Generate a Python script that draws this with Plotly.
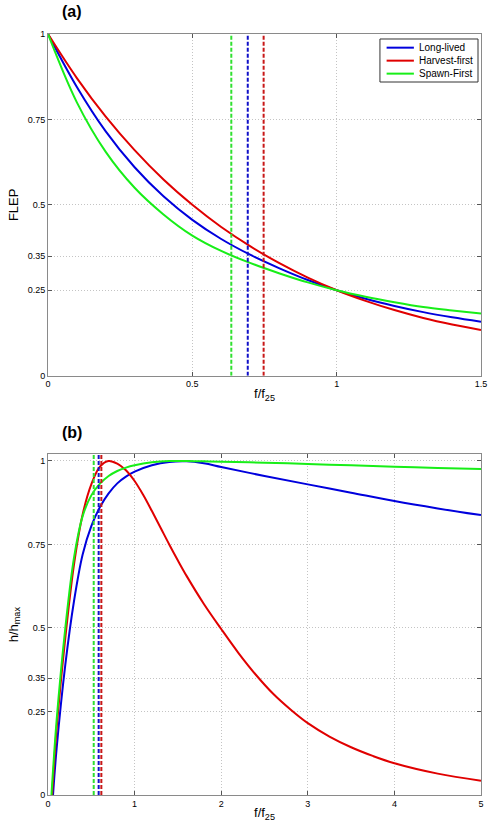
import plotly.graph_objects as go

# ---------------- Data ----------------
# Panel (a): FLEP vs f/f25
fa_x = [0, 0.1, 0.2, 0.3, 0.4, 0.5, 0.6, 0.7, 0.8, 0.9, 1.0, 1.1, 1.2, 1.3, 1.4, 1.5]
flep_long = [1, 0.845, 0.715, 0.61, 0.525, 0.456, 0.4, 0.354, 0.315, 0.28, 0.25, 0.225, 0.204, 0.186, 0.171, 0.158]
flep_harvest = [1, 0.871, 0.758, 0.66, 0.574, 0.5, 0.435, 0.379, 0.33, 0.287, 0.25, 0.219, 0.192, 0.169, 0.15, 0.134]
flep_spawn = [1, 0.8, 0.655, 0.55, 0.472, 0.41, 0.365, 0.33, 0.3, 0.273, 0.25, 0.231, 0.215, 0.201, 0.191, 0.182]

# Panel (b): h/hmax vs f/f25
hb_long_x = [0.058, 0.1, 0.2, 0.3, 0.4, 0.5, 0.6, 0.7, 0.8, 0.9, 1.0, 1.2, 1.4, 1.6, 1.8, 2.0, 2.5, 3.0, 3.5, 4.0, 4.5, 5.0]
hb_long = [0, 0.14, 0.39, 0.58, 0.72, 0.805, 0.862, 0.903, 0.933, 0.953, 0.968, 0.987, 0.997, 0.999, 0.993, 0.982, 0.955, 0.93, 0.905, 0.88, 0.858, 0.838]

hb_harvest_x = [0.047, 0.1, 0.2, 0.3, 0.4, 0.5, 0.6, 0.7, 0.8, 0.9, 1.0, 1.1, 1.2, 1.3, 1.4, 1.5, 1.6, 1.8, 2.0, 2.2, 2.4, 2.6, 2.8, 3.0, 3.25, 3.5, 3.75, 4.0, 4.5, 5.0]
hb_harvest = [0, 0.2, 0.47, 0.69, 0.84, 0.93, 0.983, 1.0, 0.992, 0.972, 0.94, 0.898, 0.85, 0.8, 0.75, 0.702, 0.656, 0.572, 0.497, 0.425, 0.36, 0.303, 0.256, 0.215, 0.175, 0.143, 0.117, 0.095, 0.064, 0.043]

hb_spawn_x = [0.04, 0.1, 0.2, 0.3, 0.4, 0.5, 0.6, 0.7, 0.8, 0.9, 1.0, 1.2, 1.4, 1.6, 1.8, 2.0, 2.5, 3.0, 3.5, 4.0, 4.5, 5.0]
hb_spawn = [0, 0.225, 0.5, 0.71, 0.835, 0.897, 0.932, 0.955, 0.97, 0.98, 0.987, 0.996, 1.0, 1.0, 0.999, 0.998, 0.995, 0.991, 0.987, 0.983, 0.979, 0.976]

# Dashed vertical markers (f/f25 positions)
vline_a = {"Long-lived": 0.692, "Harvest-first": 0.747, "Spawn-First": 0.635}
vline_b = {"Long-lived": 0.585, "Harvest-first": 0.616, "Spawn-First": 0.528}

names = ["Long-lived", "Harvest-first", "Spawn-First"]
colors = {"Long-lived": "#0000dd", "Harvest-first": "#e00000", "Spawn-First": "#18ee18"}
dash_colors = {"Long-lived": "#1010c8", "Harvest-first": "#c81818", "Spawn-First": "#30e030"}

y_ticks = [0, 0.25, 0.35, 0.5, 0.75, 1]
y_ticktext = ["0", "0.25", "0.35", "0.5", "0.75", "1"]
xa_ticks = [0, 0.5, 1, 1.5]
xa_ticktext = ["0", "0.5", "1", "1.5"]
xb_ticks = [0, 1, 2, 3, 4, 5]
xb_ticktext = ["0", "1", "2", "3", "4", "5"]

# ---------------- Figure ----------------
fig = go.Figure()

panel_a = {"Long-lived": flep_long, "Harvest-first": flep_harvest, "Spawn-First": flep_spawn}
for n in names:
    fig.add_trace(go.Scatter(x=fa_x, y=panel_a[n], mode="lines", name=n,
                             line=dict(color=colors[n], width=2, shape="spline", smoothing=1),
                             xaxis="x", yaxis="y", showlegend=False))
for n in ["Spawn-First", "Long-lived", "Harvest-first"]:
    fig.add_trace(go.Scatter(x=[vline_a[n], vline_a[n]], y=[0, 1], mode="lines",
                             line=dict(color=dash_colors[n], width=2, dash="4px,2px"),
                             xaxis="x", yaxis="y", showlegend=False, hoverinfo="skip"))

panel_b = {"Long-lived": (hb_long_x, hb_long), "Harvest-first": (hb_harvest_x, hb_harvest),
           "Spawn-First": (hb_spawn_x, hb_spawn)}
for n in names:
    xs, ys = panel_b[n]
    fig.add_trace(go.Scatter(x=xs, y=ys, mode="lines", name=n,
                             line=dict(color=colors[n], width=2, shape="spline", smoothing=1),
                             xaxis="x2", yaxis="y2", showlegend=False))
for n in ["Spawn-First", "Long-lived", "Harvest-first"]:
    fig.add_trace(go.Scatter(x=[vline_b[n], vline_b[n]], y=[0, 1.02], mode="lines",
                             line=dict(color=dash_colors[n], width=2, dash="4px,2px"),
                             xaxis="x2", yaxis="y2", showlegend=False, hoverinfo="skip"))

FONT = "Liberation Sans, Arial, sans-serif"
axis_common = dict(showline=True, linecolor="#8a8a8a", linewidth=1, mirror="ticks",
                   ticks="inside", ticklen=4, tickcolor="#555555",
                   showgrid=True, gridcolor="#c4c4c4", griddash="1px,2px", gridwidth=1,
                   zeroline=False, automargin=False, ticklabeloverflow="allow",
                   tickfont=dict(family=FONT, size=9, color="black"))

# Legend (MATLAB-style compact box in the upper right of panel (a))
shapes = [dict(type="rect", xref="x domain", yref="y domain", x0=0.7666, x1=0.9931, y0=0.8595, y1=0.9854,
               line=dict(color="#333333", width=1), fillcolor="white", layer="above")]
annotations = []
leg_rows = [0.960, 0.922, 0.884]
for n, yy in zip(names, leg_rows):
    shapes.append(dict(type="line", xref="x domain", yref="y domain", x0=0.782, x1=0.845, y0=yy, y1=yy,
                       line=dict(color=colors[n], width=2), layer="above"))
    annotations.append(dict(text=n, xref="x domain", yref="y domain", x=0.852, y=yy, showarrow=False,
                            xanchor="left", yanchor="middle", font=dict(family=FONT, size=10, color="black")))

annotations += [
    dict(text="<b>(a)</b>", x=0.055, y=1.029, xref="paper", yref="paper", showarrow=False,
         xanchor="center", yanchor="middle", font=dict(family=FONT, size=16, color="black")),
    dict(text="<b>(b)</b>", x=0.055, y=0.477, xref="paper", yref="paper", showarrow=False,
         xanchor="center", yanchor="middle", font=dict(family=FONT, size=16, color="black")),
]

fig.update_layout(
    width=491, height=833,
    margin=dict(l=48, r=10, t=34, b=38),
    paper_bgcolor="white", plot_bgcolor="white",
    font=dict(family=FONT, color="black"),
    showlegend=False,
    xaxis=dict(domain=[0, 1], anchor="y", range=[0, 1.5], tickvals=xa_ticks, ticktext=xa_ticktext,
               title=dict(text="f/f<sub>25</sub>", font=dict(family=FONT, size=13), standoff=0),
               **axis_common),
    yaxis=dict(domain=[0.551, 1.0], anchor="x", range=[0, 1], tickvals=y_ticks, ticktext=y_ticktext,
               title=dict(text="FLEP", font=dict(family=FONT, size=13), standoff=6),
               **axis_common),
    xaxis2=dict(domain=[0, 1], anchor="y2", range=[0, 5], tickvals=xb_ticks, ticktext=xb_ticktext,
                title=dict(text="f/f<sub>25</sub>", font=dict(family=FONT, size=13), standoff=0),
                **axis_common),
    yaxis2=dict(domain=[0, 0.4477], anchor="x2", range=[0, 1.02], tickvals=y_ticks, ticktext=y_ticktext,
                title=dict(text="h/h<sub>max</sub>", font=dict(family=FONT, size=13), standoff=6),
                **axis_common),
    shapes=shapes,
    annotations=annotations,
)

fig.write_html("out.html", config={"displayModeBar": False},
               post_script="document.body.style.margin='0px';document.body.style.overflow='hidden';")
